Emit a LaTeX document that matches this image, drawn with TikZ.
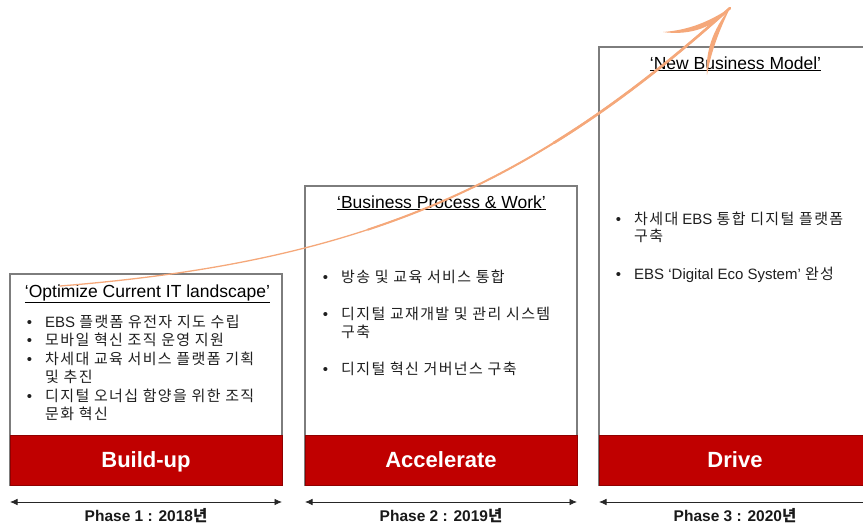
\documentclass[tikz,border=0pt]{standalone}
\usepackage{fontspec}
\setmainfont{Liberation Sans}
\newfontfamily\kr[LetterSpace=9]{Noto Sans CJK KR}
\newfontfamily\krb{Noto Sans CJK KR}
\usetikzlibrary{arrows.meta}
\definecolor{bandred}{RGB}{192,0,0}
\definecolor{curveor}{RGB}{245,168,122}
\definecolor{boxgray}{RGB}{125,125,125}
\newcommand{\bdot}{\llap{\textbullet\hspace{13pt}}}
\begin{document}
\begin{tikzpicture}[x=1pt,y=-1pt,
  panel/.style={draw=boxgray, fill=white, line width=1.2pt, rectangle, inner sep=0pt, outer sep=0pt, minimum width=272pt},
  band/.style={fill=bandred, draw=bandred!75!black, line width=0.6pt, rectangle, inner sep=0pt, outer sep=0pt, minimum width=272pt, minimum height=50pt},
  ttl/.style={font=\fontsize{17.5}{20}\selectfont, anchor=base, inner sep=0pt, text=black},
  btxt/.style={font=\fontsize{15}{18}\selectfont, anchor=base west, inner sep=0pt, text=black!88},
  bandtxt/.style={font=\fontsize{22}{26}\selectfont\bfseries, text=white, anchor=base, inner sep=0pt},
  phase/.style={font=\fontsize{15.5}{18}\selectfont\bfseries, anchor=base, inner sep=0pt, text=black!90},
  span/.style={{Latex[length=7.5pt,width=6.5pt]}-{Latex[length=7.5pt,width=6.5pt]}, line width=0.8pt, draw=black!85},
  growth/.style={draw=curveor, line cap=round},
]
\useasboundingbox (0,0) rectangle (863,523);
\clip (0,0) rectangle (863,523);

% panels
\node[panel, minimum height=211pt] (p1) at (146,379.5) {};
\node[panel, minimum height=299pt] (p2) at (441,335.5) {};
\node[panel, minimum height=438pt] (p3) at (735,266) {};

% red bands
\node[band] (r1) at (146,460) {};
\node[band] (r2) at (441,460) {};
\node[band] (r3) at (735,460) {};
\node[bandtxt] (r1t) at (146,467) {Build-up};
\node[bandtxt] (r2t) at (441,467) {Accelerate};
\node[bandtxt] (r3t) at (735,467) {Drive};

% titles
\node[ttl] (t1) at (147.5,297) {\underline{‘Optimize Current IT landscape’}};
\node[ttl] (t2) at (441.5,208) {\underline{‘Business Process \& Work’}};
\node[ttl] (t3) at (735.5,69) {\underline{‘New Business Model’}};

% bullets box 1
\node[btxt] (b11) at (45,327) {\bdot EBS {\kr 플랫폼 유전자 지도 수립}};
\node[btxt] (b12) at (45,345.5) {\bdot{\kr 모바일 혁신 조직 운영 지원}};
\node[btxt] (b13) at (45,364) {\bdot{\kr 차세대 교육 서비스 플랫폼 기획}};
\node[btxt] (b13b) at (45,382.5) {{\kr 및 추진}};
\node[btxt] (b14) at (45,401) {\bdot{\kr 디지털 오너십 함양을 위한 조직}};
\node[btxt] (b14b) at (45,419.5) {{\kr 문화 혁신}};

% bullets box 2
\node[btxt] (b21) at (341,282) {\bdot{\kr 방송 및 교육 서비스 통합}};
\node[btxt] (b22) at (341,319) {\bdot{\kr 디지털 교재개발 및 관리 시스템}};
\node[btxt] (b22b) at (341,337) {{\kr 구축}};
\node[btxt] (b23) at (341,374) {\bdot{\kr 디지털 혁신 거버넌스 구축}};

% bullets box 3
\node[btxt] (b31) at (634,224) {\bdot{\kr 차세대} EBS {\kr 통합 디지털 플랫폼}};
\node[btxt] (b31b) at (634,241.5) {{\kr 구축}};
\node[btxt] (b32) at (634,279) {\bdot EBS ‘Digital Eco System’ {\kr 완성}};

% phase spans
\draw[span] ([yshift=-17pt]r1.south west) -- ([yshift=-17pt]r1.south east);
\draw[span] ([yshift=-17pt]r2.south west) -- ([yshift=-17pt]r2.south east);
\draw[span] ([yshift=-17pt]r3.south west) -- ([yshift=-17pt]r3.south east);
\node[phase] (ph1) at (146,521) {Phase 1 : 2018{\krb 년}};
\node[phase] (ph2) at (441,521) {Phase 2 : 2019{\krb 년}};
\node[phase] (ph3) at (735,521) {Phase 3 : 2020{\krb 년}};

% growth curve (same Bezier, thickening towards the tip)
\coordinate (cs) at (60,286);
\coordinate (cm) at (367.84,229.62);
\coordinate (cq) at (553.78,142.89);
\coordinate (ct) at (730,8);
\draw[growth, line width=1.3pt] (cs) .. controls (360,262) and (530,188) .. (ct);
\draw[growth, line width=2.0pt] (cm) .. controls (500.8,185.84) and (610,116) .. (ct);
\draw[growth, line width=2.6pt] (cq) .. controls (612.7,106.46) and (670,62) .. (ct);
\fill[curveor] (ct) .. controls (710,21) and (690,30) .. (663,32)
  .. controls (690,36) and (715,27) .. (ct) -- cycle;
\fill[curveor] (ct) .. controls (713,29) and (705,52) .. (707,75)
  .. controls (711,52) and (719,31) .. (ct) -- cycle;
\end{tikzpicture}
\end{document}
